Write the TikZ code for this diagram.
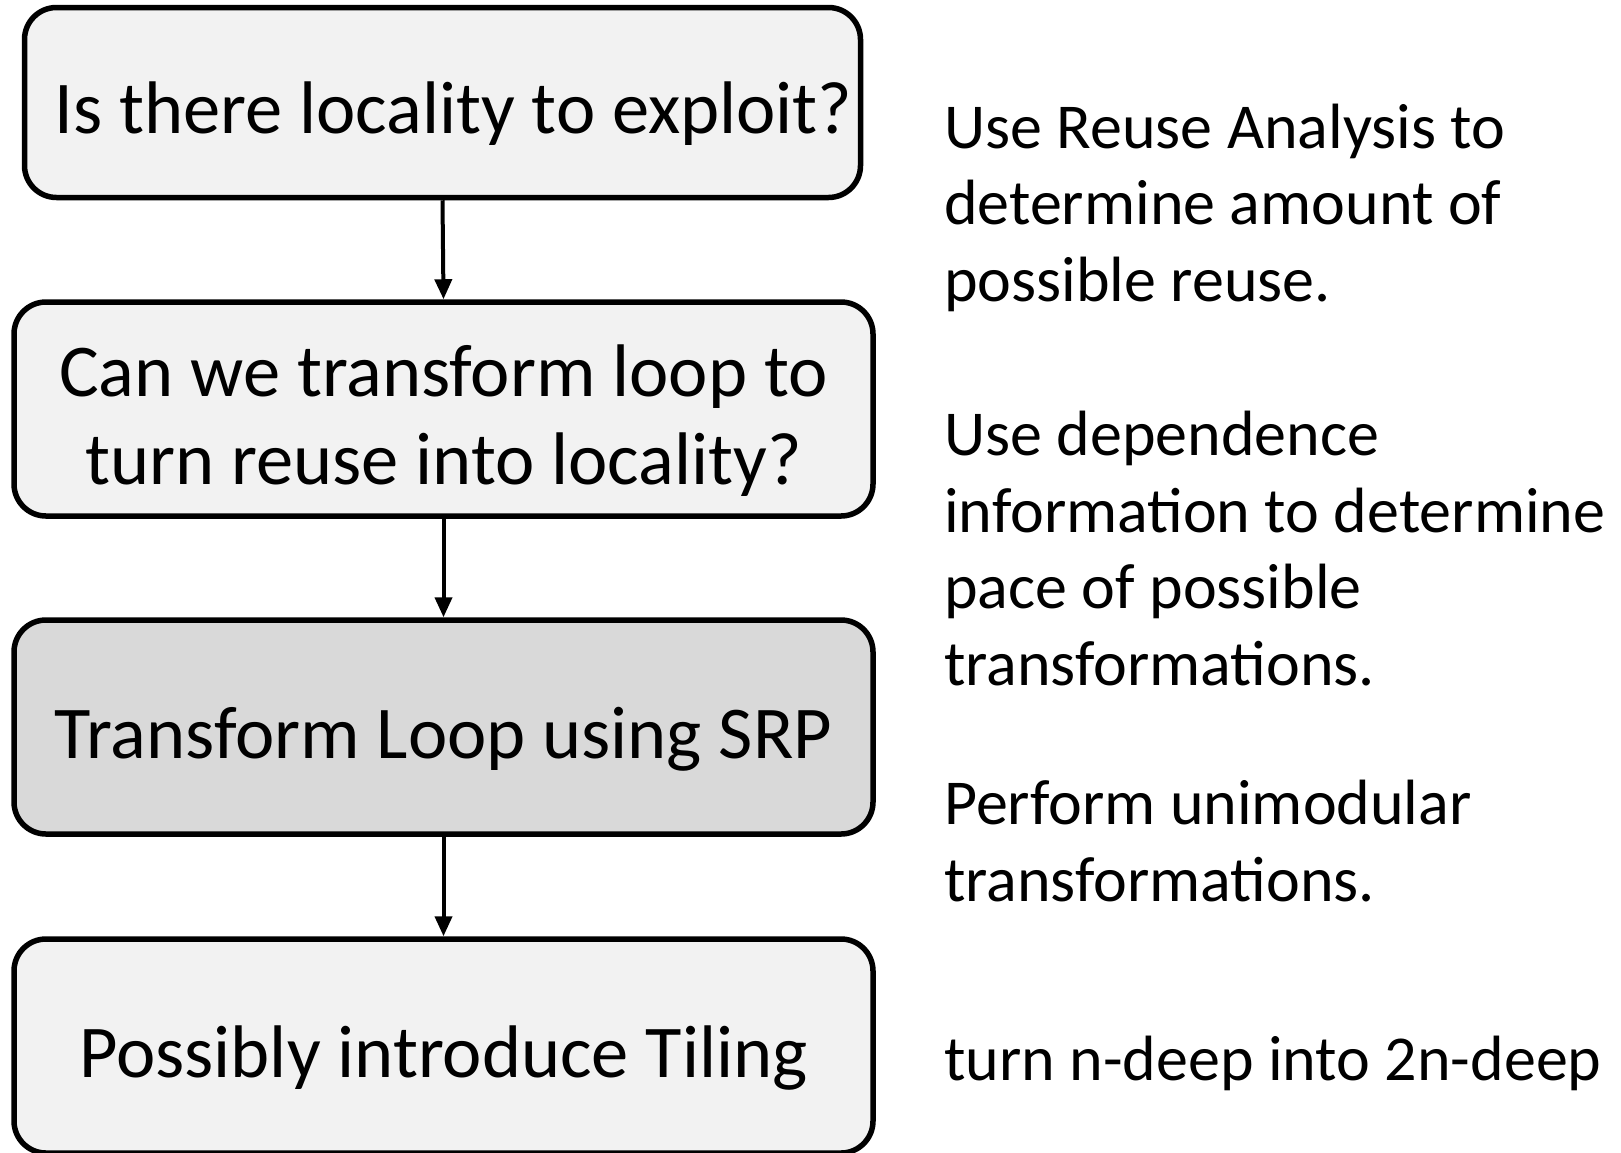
\documentclass[tikz,border=0pt]{standalone}
\usepackage{fontspec}
\setmainfont{Carlito}
\usetikzlibrary{arrows.meta}
\definecolor{boxlight}{HTML}{F2F2F2}
\definecolor{boxdark}{HTML}{D9D9D9}
\tikzset{
  flowbox/.style={draw=black, line width=5.5pt, rounded corners=32pt, fill=boxlight,
    minimum width=859pt, minimum height=214pt, inner sep=0pt, align=center,
    text height=62pt, text depth=0pt,
    font=\fontsize{74.5}{88}\selectfont},
  flowarrow/.style={draw=black, line width=4pt, -{Triangle[length=20pt,width=17pt]}},
  note/.style={anchor=base west, inner sep=0pt, align=left,
    font=\fontsize{64}{76.5}\selectfont}
}
\begin{document}
\begin{tikzpicture}[x=1pt,y=-1pt]
\useasboundingbox (0,0) rectangle (1621,1152);
\node[flowbox, minimum width=836pt, minimum height=190pt] (b1) at (442.5,102.5) {\hspace*{22pt}Is there locality to exploit?};
\node[flowbox, text height=150pt] (b2) at (443.5,409) {Can we transform loop to\\turn reuse into locality?};
\node[flowbox, fill=boxdark] (b3) at (443.5,727) {Transform Loop using SRP};
\node[flowbox] (b4) at (443.5,1046) {Possibly introduce Tiling};
\draw[flowarrow] (b1.south) -- (b2.north);
\draw[flowarrow] (b2.south) -- (b3.north);
\draw[flowarrow] (b3.south) -- (b4.north);
\node[note] (n1) at (944,301) {Use Reuse Analysis to\\determine amount of\\possible reuse.};
\node[note] (n2) at (944,685) {Use dependence\\information to determine\\pace of possible\\transformations.};
\node[note] (n3) at (944,901) {Perform unimodular\\transformations.};
\node[note] (n4) at (944,1080) {turn n-deep into 2n-deep};
\end{tikzpicture}
\end{document}
